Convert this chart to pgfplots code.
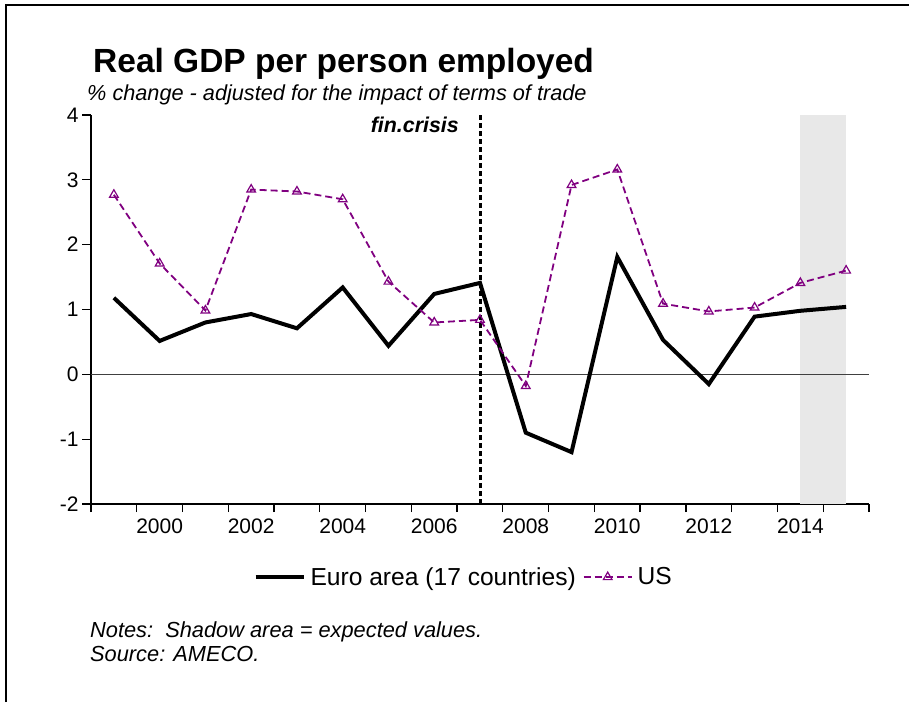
\documentclass[border=0pt]{standalone}
\usepackage{pgfplots}
\pgfplotsset{compat=1.18}
\usepackage{fontspec}
\setmainfont{Liberation Sans}
\definecolor{uspurple}{HTML}{800080}
\definecolor{shade}{HTML}{E8E8E8}
\begin{document}
\begin{tikzpicture}[x=1pt,y=1pt]
\useasboundingbox (0,0) rectangle (909,702);
% frame (top and left)
\draw[line width=2.5pt] (6,0) -- (6,697) -- (909,697);
\begin{axis}[
  at={(91pt,198pt)}, anchor=south west,
  scale only axis, width=778pt, height=389pt,
  xmin=1998.5, xmax=2015.5, ymin=-2, ymax=4,
  axis x line*=bottom, axis y line*=left,
  axis line style={line width=1.3pt, -},
  xtick={2000,2002,...,2014},
  minor xtick={1998.5,1999.5,...,2015.5},
  ytick={-2,-1,0,1,2,3,4},
  tick align=outside,
  major tick length=9pt, minor tick length=8pt,
  major x tick style={draw=none},
  minor x tick style={line width=1.3pt, black},
  major y tick style={line width=1.1pt, black},
  x tick label style={/pgf/number format/1000 sep={}, yshift=-2pt},
  tick label style={font=\fontsize{21}{24}\selectfont},
  /pgf/number format/assume math mode=true,
  legend style={draw=none, fill=none, at={(0.479,-0.188)}, anchor=center,
    font=\fontsize{24.6}{28}\selectfont, legend columns=-1,
    /tikz/every odd column/.append style={column sep=3pt},
    /tikz/every even column/.append style={column sep=5pt},
    inner sep=0pt},
  legend cell align=left,
  legend image code/.code={\draw[mark repeat=2,mark phase=2,#1] plot coordinates {(0pt,0pt) (24pt,0pt) (48pt,0pt)};},
  clip=false,
]
% shaded forecast region
\addplot[fill=shade, draw=none, forget plot] coordinates {(2014,-2) (2015,-2) (2015,4) (2014,4)} -- cycle;
% zero line
\addplot[draw=black!75, line width=1pt, forget plot] coordinates {(1998.5,0) (2015.5,0)};
% financial crisis line
\addplot[black, line width=3pt, dash pattern=on 5pt off 3pt, forget plot] coordinates {(2007,-2) (2007,4)};
\addplot[black, line width=4pt, line join=miter] coordinates {
(1999,1.18) (2000,0.515) (2001,0.80) (2002,0.93) (2003,0.71) (2004,1.34)
(2005,0.44) (2006,1.24) (2007,1.41) (2008,-0.90) (2009,-1.20) (2010,1.81)
(2011,0.53) (2012,-0.15) (2013,0.89) (2014,0.98) (2015,1.04)};
\addlegendentry{Euro area (17 countries)}
\addplot[uspurple, line width=1.8pt, dash pattern=on 7pt off 4pt, mark=triangle,
  mark size=5pt, mark options={solid, line width=1.2pt, fill=white}] coordinates {
(1999,2.77) (2000,1.71) (2001,0.985) (2002,2.85) (2003,2.82) (2004,2.70)
(2005,1.43) (2006,0.80) (2007,0.84) (2008,-0.18) (2009,2.92) (2010,3.16)
(2011,1.09) (2012,0.97) (2013,1.03) (2014,1.41) (2015,1.60)};
\addlegendentry{US}
\end{axis}
\node[anchor=base west, inner sep=0pt, font=\fontsize{33.5}{40}\selectfont\bfseries] at (93,629) {Real GDP per person employed};
\node[anchor=base west, inner sep=0pt, font=\fontsize{21.7}{26}\selectfont\itshape] at (87,601) {\% change - adjusted for the impact of terms of trade};
\node[anchor=base east, inner sep=0pt, font=\fontsize{21.4}{26}\selectfont\bfseries\itshape] at (459,569) {fin.crisis};
\node[anchor=base west, inner sep=0pt, font=\fontsize{21.8}{26}\selectfont\itshape] at (90,65) {Notes:\ \ Shadow area = expected values.};
\node[anchor=base west, inner sep=0pt, font=\fontsize{21.8}{26}\selectfont\itshape] at (90,41) {Source: AMECO.};
\end{tikzpicture}
\end{document}
